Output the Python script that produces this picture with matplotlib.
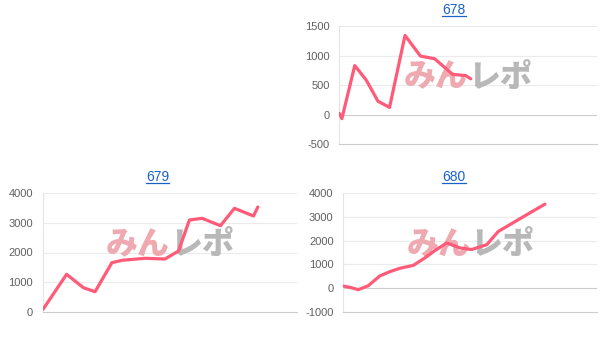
import matplotlib
matplotlib.use("Agg")
import matplotlib.pyplot as plt
from matplotlib.lines import Line2D

plt.rcParams['font.family'] = ['Liberation Sans', 'Noto Sans CJK JP', 'DejaVu Sans']

# ---- data (x: position along the play axis, 0-100 of the axis span; y: difference) ----
titles = ["678", "679", "680"]

x678 = [0, 1, 6, 10.5, 15, 19.5, 25.5, 31.5, 37, 44, 49, 51]
y678 = [20, -70, 830, 580, 225, 120, 1340, 990, 945, 680, 660, 605]

x679 = [0.2, 9.4, 16.0, 20.6, 27.2, 31.1, 40.3, 48.1, 53.4, 57.7, 62.7, 69.9, 75.4, 82.9, 84.6]
y679 = [90, 1263, 811, 676, 1655, 1736, 1804, 1780, 2050, 3098, 3155, 2905, 3493, 3233, 3537]

x680 = [0, 2.6, 5.9, 9.8, 14.4, 18.4, 22.3, 27.6, 32.2, 36.1, 40.7, 45.9, 50.5, 56.5, 61.0, 67.6, 74.2, 79.4]
y680 = [83, 29, -70, 96, 513, 694, 833, 958, 1278, 1583, 1903, 1695, 1625, 1833, 2388, 2804, 3221, 3542]

ticks678 = [-500, 0, 500, 1000, 1500]
ticks679 = [0, 1000, 2000, 3000, 4000]
ticks680 = [-1000, 0, 1000, 2000, 3000, 4000]

watermark_a = "みん"
watermark_b = "レポ"

LINE = '#ff5a78'
GRID = '#ebebeb'
BASE = '#cccccc'
TICK = '#606060'
LINK = '#1a62c8'

W, H = 607, 340
fig = plt.figure(figsize=(W / 100, H / 100), dpi=100)


def px_axes(left, right, top, bottom):
    return [left / W, 1 - bottom / H, (right - left) / W, (bottom - top) / H]


panels = [
    (titles[0], x678, y678, ticks678, px_axes(339.3, 597, 26, 144), (454, 10)),
    (titles[1], x679, y679, ticks679, px_axes(42.7, 297, 193.3, 311.7), (157.5, 177)),
    (titles[2], x680, y680, ticks680, px_axes(343.3, 597.3, 193.3, 311.7), (454, 177)),
]

title_texts = []
for title, xs, ys, ticks, rect, tpos in panels:
    ax = fig.add_axes(rect)
    ax.set_xlim(0, 100)
    ax.set_ylim(ticks[0], ticks[-1])
    ax.set_yticks(ticks)
    ax.set_yticklabels([str(t) for t in ticks])
    ax.set_xticks([])
    ax.tick_params(axis='y', length=0, pad=7, labelsize=8, labelcolor=TICK)
    for lab in ax.get_yticklabels():
        lab.set_fontfamily(['Liberation Sans'])
    for s in ['top', 'right']:
        ax.spines[s].set_visible(False)
    ax.spines['left'].set_color('#e4e4e4')
    ax.spines['left'].set_linewidth(0.8)
    ax.spines['bottom'].set_color(BASE)
    ax.spines['bottom'].set_linewidth(0.8)
    for t in ticks[1:]:
        ax.axhline(t, color=(BASE if t == 0 else GRID), lw=0.8, zorder=0.5)
    # watermark
    ax.text(0.5, 0.57, watermark_a, transform=ax.transAxes, ha='right', va='center',
            fontsize=23, fontweight='heavy', color='#eeaab0', family=['Noto Sans CJK JP'],
            zorder=1)
    ax.text(0.5, 0.57, watermark_b, transform=ax.transAxes, ha='left', va='center',
            fontsize=23, fontweight='heavy', color='#b8b8b8', family=['Noto Sans CJK JP'],
            zorder=1)
    ax.plot(xs, ys, color=LINE, lw=2.3, solid_joinstyle='round', solid_capstyle='round',
            zorder=3)
    t = fig.text(tpos[0] / W, 1 - tpos[1] / H, title, ha='center', va='center',
                 fontsize=10, color=LINK, family=['Liberation Sans'])
    title_texts.append(t)

fig.canvas.draw()
r = fig.canvas.get_renderer()
for t in title_texts:
    bb = t.get_window_extent(renderer=r)
    y = (bb.y0 + 1.5) / (H)
    fig.add_artist(Line2D([bb.x0 / W, bb.x1 / W], [y, y], color=LINK, lw=0.9,
                          transform=fig.transFigure))

fig.savefig('out.png', dpi=100)
